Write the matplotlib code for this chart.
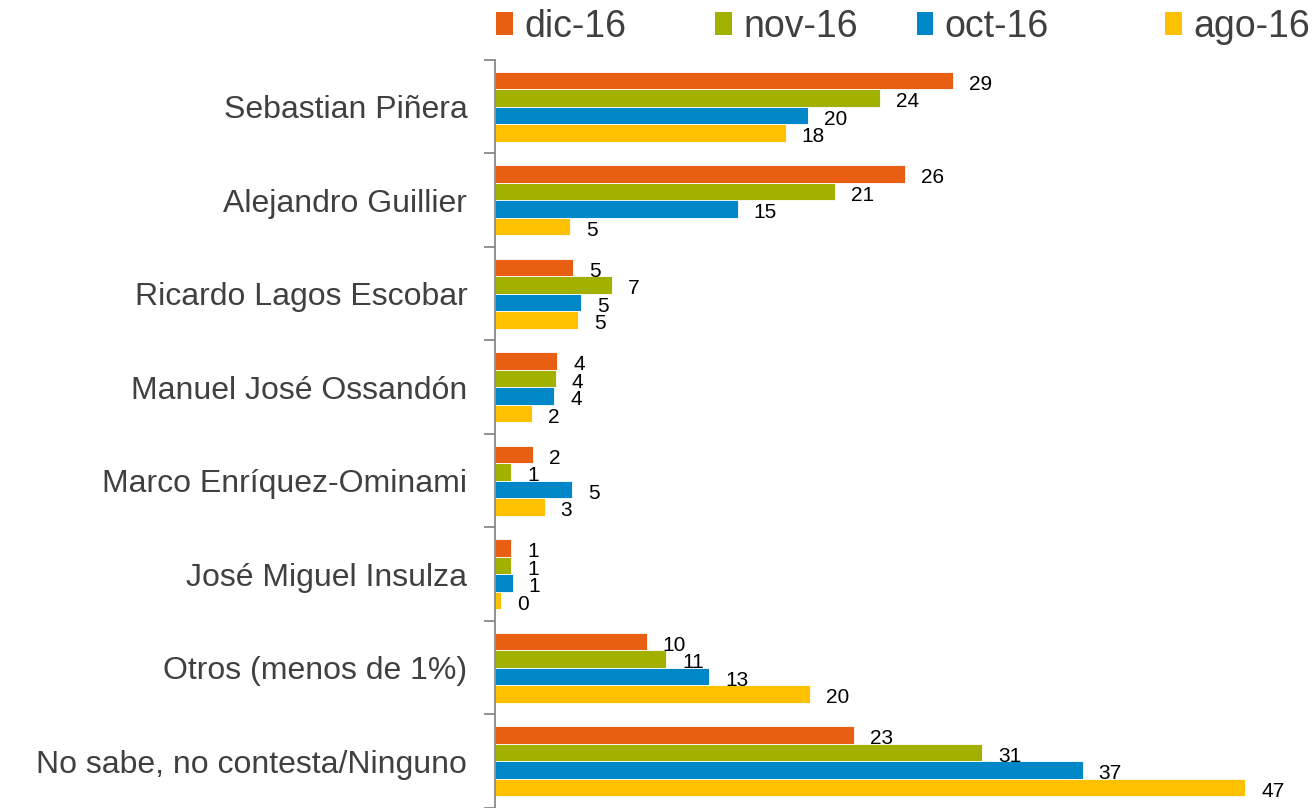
import matplotlib
matplotlib.use("Agg")
import matplotlib.pyplot as plt
from matplotlib.patches import Patch
import numpy as np

plt.rcParams['font.family'] = ['Liberation Sans', 'DejaVu Sans']

categories = ["Sebastian Piñera", "Alejandro Guillier", "Ricardo Lagos Escobar",
              "Manuel José Ossandón", "Marco Enríquez-Ominami", "José Miguel Insulza",
              "Otros (menos de 1%)", "No sabe, no contesta/Ninguno"]
series_names = ["dic-16", "nov-16", "oct-16", "ago-16"]
dic16 = [28.7, 25.7, 4.9, 3.9, 2.4, 1.0, 9.5, 22.5]
nov16 = [24.1, 21.3, 7.3, 3.8, 1.0, 1.0, 10.7, 30.5]
oct16 = [19.6, 15.2, 5.4, 3.7, 4.8, 1.1, 13.4, 36.8]
ago16 = [18.2, 4.7, 5.2, 2.3, 3.1, 0.4, 19.7, 47.0]
dic16_lbl = [29, 26, 5, 4, 2, 1, 10, 23]
nov16_lbl = [24, 21, 7, 4, 1, 1, 11, 31]
oct16_lbl = [20, 15, 5, 4, 5, 1, 13, 37]
ago16_lbl = [18, 5, 5, 2, 3, 0, 20, 47]

colors = ["#E85E12", "#A2B000", "#0087C8", "#FFC000"]
values = [dic16, nov16, oct16, ago16]
labels = [dic16_lbl, nov16_lbl, oct16_lbl, ago16_lbl]

fig = plt.figure(figsize=(13.15, 8.08), dpi=100)
ax = fig.add_axes([0.3765, 0.0, 0.607, 0.926])

n = len(categories)
y = np.arange(n)
bh = 0.187
offsets = [-1.5 * bh, -0.5 * bh, 0.5 * bh, 1.5 * bh]
for vals, lbls, col, off in zip(values, labels, colors, offsets):
    ax.barh(y + off, vals, height=bh, color=col, edgecolor='white', linewidth=0.6)
    for yi, v, l in zip(y, vals, lbls):
        ax.text(v + 1.0, yi + off + 0.04, f"{l}", va='center', ha='left',
                fontsize=15, color='black')

ax.set_xlim(0, 50)
ax.set_ylim(n - 0.5, -0.5)
ax.set_yticks(y)
ax.set_yticklabels(categories, fontsize=23, color='#404040')
ax.tick_params(axis='y', which='major', length=0, pad=20)
ax.set_yticks(np.arange(n + 1) - 0.5, minor=True)
ax.tick_params(axis='y', which='minor', length=8, width=1.3, color='#888888', direction='out')
ax.set_xticks([])
for s in ['top', 'right', 'bottom']:
    ax.spines[s].set_visible(False)
ax.spines['left'].set_color('#888888')
ax.spines['left'].set_linewidth(1.3)

legend_x = [0.377, 0.544, 0.697, 0.886]
for name, col, lx in zip(series_names, colors, legend_x):
    fig.legend([Patch(facecolor=col, edgecolor='none')], [name],
               loc='center left', bbox_to_anchor=(lx, 0.967),
               frameon=False, fontsize=27, handlelength=0.45, handleheight=0.6,
               handletextpad=0.3, borderaxespad=0, borderpad=0,
               labelcolor='#404040')

fig.savefig("out.png", dpi=100)
